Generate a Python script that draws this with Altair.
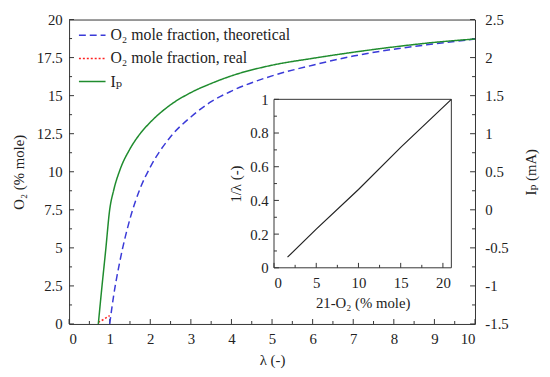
import altair as alt
import pandas as pd

# ---------------- data ----------------
lam_theo = [1.0, 1.1, 1.25, 1.5, 1.75, 2.0, 2.5, 3.0, 3.5, 4.0, 5.0, 6.0, 7.0, 8.0, 9.0, 10.0]
o2_theo = [0.0, 1.9, 4.1, 6.9, 8.9, 10.3, 12.3, 13.6, 14.6, 15.3, 16.3, 17.0, 17.6, 18.05, 18.4, 18.72]

lam_real = [0.72, 0.85, 1.0]
o2_real = [0.1, 0.3, 0.55]

lam_ip = [0.72, 0.8, 0.9, 1.0, 1.1, 1.25, 1.5, 1.75, 2.0, 2.5, 3.0, 3.5, 4.0, 5.0, 6.0, 7.0, 8.0, 9.0, 10.0]
ip_ma = [-1.5, -1.06, -0.54, 0.0, 0.26, 0.52, 0.8, 1.0, 1.15, 1.38, 1.54, 1.66, 1.76, 1.9, 1.99, 2.07, 2.14, 2.2, 2.244]

inset_x = [1.6, 5.0, 10.0, 15.0, 21.0]
inset_y = [0.063, 0.23, 0.465, 0.715, 1.0]

series_names = ["O\u2082 mole fraction, theoretical", "O\u2082 mole fraction, real", "I\u209a"]
series_colors = ["#3a3ad8", "#ff2020", "#1f8c2e"]
series_dash = [[7, 4], [2, 2], [1, 0]]

x_major = [0, 1, 2, 3, 4, 5, 6, 7, 8, 9, 10]
x_minor = [0.5, 1.5, 2.5, 3.5, 4.5, 5.5, 6.5, 7.5, 8.5, 9.5]
o2_major = [0, 2.5, 5, 7.5, 10, 12.5, 15, 17.5, 20]
o2_minor = [1.25, 3.75, 6.25, 8.75, 11.25, 13.75, 16.25, 18.75]
ip_major = [-1.5, -1, -0.5, 0, 0.5, 1, 1.5, 2, 2.5]
ip_minor = [-1.25, -0.75, -0.25, 0.25, 0.75, 1.25, 1.75, 2.25]
in_x_major = [0, 5, 10, 15, 20]
in_x_minor = [2.5, 7.5, 12.5, 17.5]
in_y_major = [0, 0.2, 0.4, 0.6, 0.8, 1.0]
in_y_minor = [0.1, 0.3, 0.5, 0.7, 0.9]
in_x_domain = [0, 21]
in_y_domain = [0, 1]

# ---------------- styling ----------------
FONT = "'Liberation Serif', 'DejaVu Serif', serif"
FS = 15
LEG_FS = 16
TXT = "#222222"
W, H = 412, 309
# inset placement inside the plot area (pixels)
IN_L, IN_R, IN_T, IN_B = 208, 388, 81, 252

LABEL_EXPR = "replace(format(datum.value, '~g'), '\u2212', '-')"


def ax(**kw):
    base = dict(labelFont=FONT, labelFontSize=FS, labelColor=TXT, titleFont=FONT,
                titleFontSize=FS, titleColor=TXT, titleFontWeight="normal",
                grid=False, domain=False, ticks=False, labelExpr=LABEL_EXPR, zindex=1)
    base.update(kw)
    return alt.Axis(**base)


xs = alt.Scale(domain=[0, 10], nice=False, zero=False)
ys_o2 = alt.Scale(domain=[0, 20], nice=False, zero=False)
ys_ip = alt.Scale(domain=[-1.5, 2.5], nice=False, zero=False)
xs_in = alt.Scale(domain=in_x_domain, range=[IN_L, IN_R], nice=False, zero=False)
ys_in = alt.Scale(domain=in_y_domain, range=[IN_B, IN_T], nice=False, zero=False)

legend = alt.Legend(title=None, orient="none", legendX=9, legendY=8, symbolType="stroke",
                    symbolSize=729, symbolStrokeWidth=1.5, labelFont=FONT, labelFontSize=LEG_FS,
                    labelColor=TXT, rowPadding=7.5, clipHeight=16, labelOffset=4, padding=0,
                    labelLimit=400)
color = alt.Color("series:N", scale=alt.Scale(domain=series_names, range=series_colors), legend=legend)
dash = alt.StrokeDash("series:N", scale=alt.Scale(domain=series_names, range=series_dash), legend=legend)

o2_df = pd.DataFrame({
    "lam": lam_theo + lam_real,
    "val": o2_theo + o2_real,
    "series": [series_names[0]] * len(lam_theo) + [series_names[1]] * len(lam_real),
})
ip_df = pd.DataFrame({"lam": lam_ip, "val": ip_ma, "series": [series_names[2]] * len(lam_ip)})

o2_layer = alt.Chart(o2_df).mark_line(strokeWidth=1.5, interpolate="monotone").encode(
    x=alt.X("lam:Q", scale=xs, axis=ax(orient="bottom", values=x_major, labelPadding=8,
                                       title="\u03bb (-)", titlePadding=6)),
    y=alt.Y("val:Q", scale=ys_o2, axis=ax(orient="left", values=o2_major, labelPadding=7,
                                          title="O\u2082 (% mole)", titlePadding=10)),
    color=color, strokeDash=dash, detail="series:N",
)

ip_layer = alt.Chart(ip_df).mark_line(strokeWidth=1.5, interpolate="monotone").encode(
    x=alt.X("lam:Q", scale=xs, axis=None),
    y=alt.Y("val:Q", scale=ys_ip, axis=ax(orient="right", values=ip_major, labelPadding=10,
                                          title="I\u209a (mA)", titlePadding=16, titleAngle=270,
                                          titleBaseline="top")),
    color=color, strokeDash=dash,
)


def xticks(vals, scale, ybase, length):
    return alt.Chart(pd.DataFrame({"v": vals})).mark_rule(color="#333333", strokeWidth=1).encode(
        x=alt.X("v:Q", scale=scale, axis=None),
        y=alt.value(ybase), y2=alt.value(ybase - length))


def yticks(vals, scale, xbase, length):
    return alt.Chart(pd.DataFrame({"v": vals})).mark_rule(color="#333333", strokeWidth=1).encode(
        y=alt.Y("v:Q", scale=scale, axis=None),
        x=alt.value(xbase), x2=alt.value(xbase + length))


tick_layers = [
    xticks(x_major, xs, H, 5), xticks(x_minor, xs, H, 3),
    yticks(o2_major, ys_o2, 0, 5), yticks(o2_minor, ys_o2, 0, 3),
    yticks(ip_major, ys_ip, W, -5), yticks(ip_minor, ys_ip, W, -3),
]

box_df = pd.DataFrame({"x0": [in_x_domain[0]], "x1": [in_x_domain[1]],
                       "y0": [in_y_domain[0]], "y1": [in_y_domain[1]]})
inset_box = alt.Chart(box_df).mark_rect(fill="white", stroke="#333333", strokeWidth=1).encode(
    x=alt.X("x0:Q", scale=xs_in, axis=None), x2="x1:Q",
    y=alt.Y("y0:Q", scale=ys_in, axis=None), y2="y1:Q",
)

inset_line = alt.Chart(pd.DataFrame({"a": inset_x, "b": inset_y})).mark_line(
    color="#222222", strokeWidth=1.2).encode(
    x=alt.X("a:Q", scale=xs_in, axis=ax(orient="bottom", values=in_x_major, offset=-(H - IN_B),
                                        labelPadding=8, title="21-O\u2082 (% mole)", titlePadding=5)),
    y=alt.Y("b:Q", scale=ys_in, axis=ax(orient="left", values=in_y_major, offset=-IN_L,
                                        labelPadding=6, title="1/\u03bb (-)", titlePadding=6)),
)

inset_ticks = [
    xticks(in_x_major, xs_in, IN_B, 5), xticks(in_x_minor, xs_in, IN_B, 3),
    yticks(in_y_major, ys_in, IN_L, 5), yticks(in_y_minor, ys_in, IN_L, 3),
]

chart = alt.layer(
    *tick_layers, o2_layer, ip_layer, inset_box, inset_line, *inset_ticks
).resolve_scale(
    x="independent", y="independent"
).properties(
    width=W, height=H,
    autosize=alt.AutoSizeParams(type="none"),
    padding={"left": 62, "top": 9, "right": 68, "bottom": 43},
).configure_view(
    stroke="#333333", strokeWidth=1
)

chart.save("out.html", embed_options={"renderer": "svg", "actions": False})
